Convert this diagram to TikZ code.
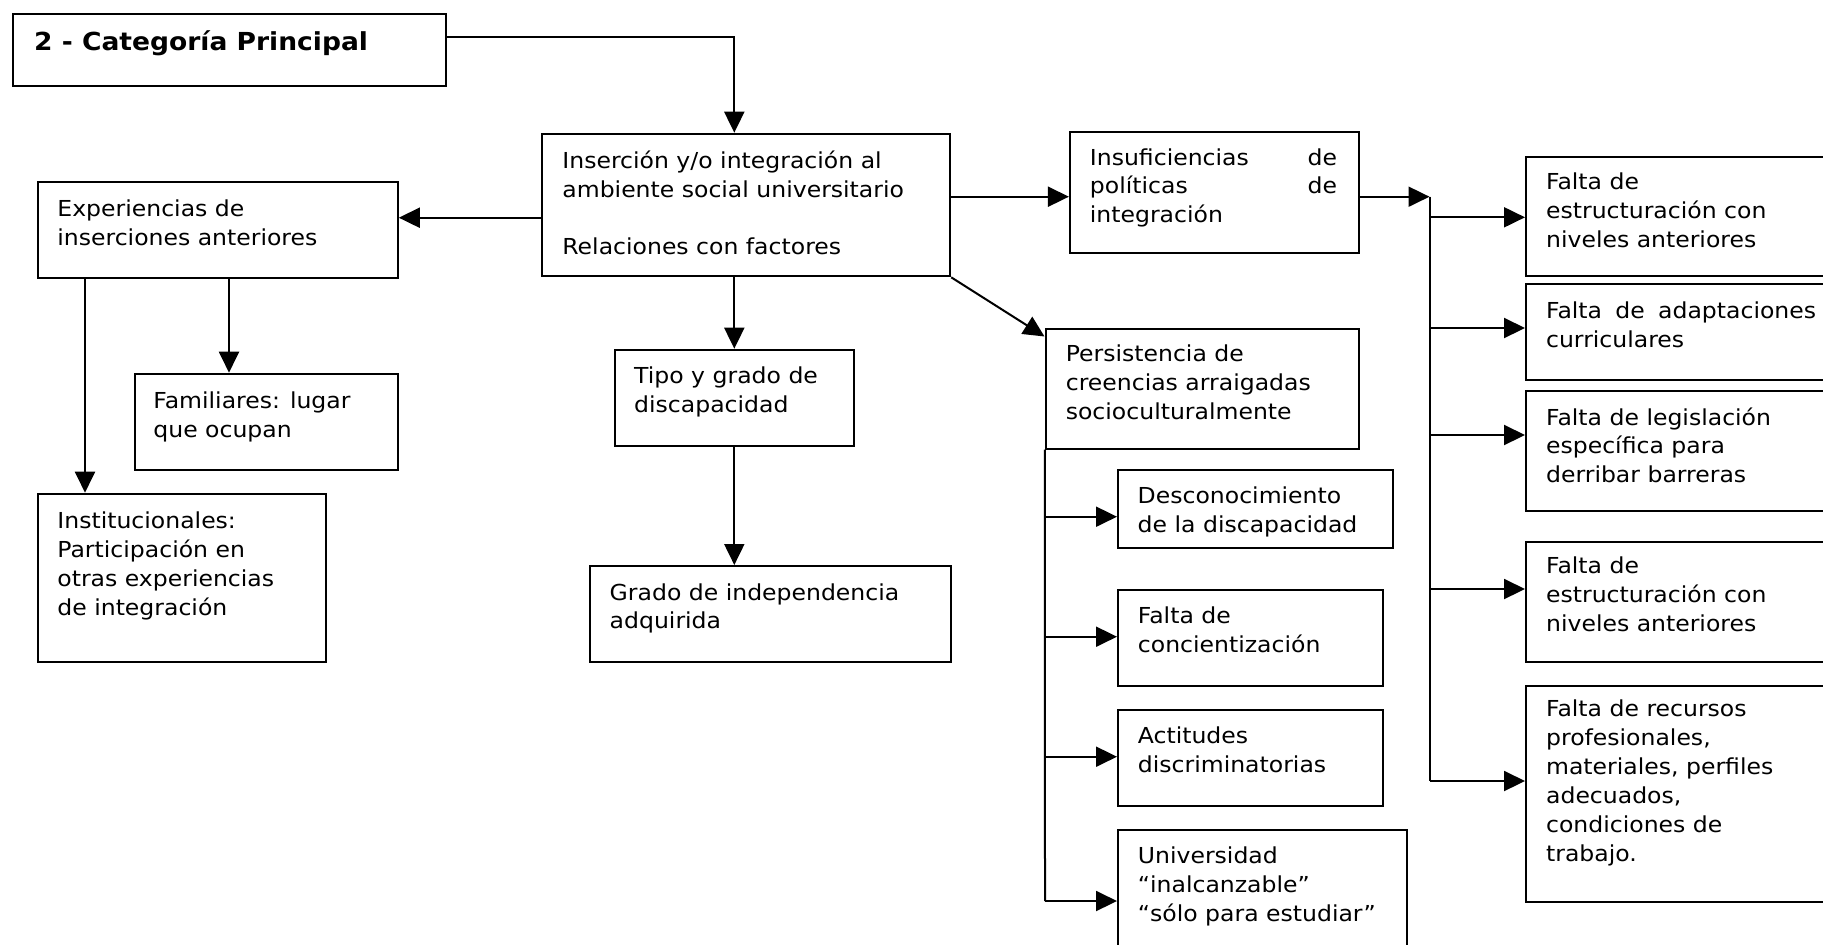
\documentclass[tikz,border=0pt]{standalone}
\usepackage{fontspec}
\setmainfont{DejaVu Sans}[FakeStretch=1.07]
\usetikzlibrary{arrows.meta}
\tikzset{
  bx/.style={draw, line width=1pt, inner sep=0pt, anchor=north west},
  tx/.style={anchor=base west, inner sep=0pt, font=\fontsize{11}{14.45}\selectfont},
  ttl/.style={anchor=base west, inner sep=0pt, font=\fontsize{12.4}{15}\selectfont\bfseries},
  arr/.style={line width=1pt, -{Triangle[length=10.5pt,width=10pt]}},
  ln/.style={line width=1pt}
}
\newcommand\mkbox[5]{\node[bx, minimum width={(#4-#2)*0.5pt}, minimum height={(#5-#3)*0.5pt}] (#1) at (#2,#3) {};}
\newcommand\lines[1]{\begin{tabular}[t]{@{}l@{}}#1\end{tabular}}
\begin{document}
\begin{tikzpicture}[x=0.5pt,y=-0.5pt]
\useasboundingbox (0,0) rectangle (1823,944);
\clip (0,0) rectangle (1823,944);
% boxes
\mkbox{cat}{12.2}{13.3}{445.2}{85}
\mkbox{ins}{541.3}{132.7}{949.2}{275.3}
\mkbox{exp}{36.7}{181}{396.8}{277}
\mkbox{fam}{133.5}{372.7}{396.8}{469.3}
\mkbox{inst}{36.7}{492.7}{325.2}{661}
\mkbox{tipo}{613.6}{348.7}{853}{444.7}
\mkbox{grado}{589}{565}{949.8}{661}
\mkbox{insuf}{1068.9}{131}{1357.9}{251.7}
\mkbox{pers}{1044.8}{328.3}{1357.9}{447.7}
\mkbox{desc}{1117}{469}{1392}{547}
\mkbox{conc}{1117}{589.3}{1381.6}{685}
\mkbox{act}{1117}{709.3}{1381.6}{805}
\mkbox{univ}{1117}{829.3}{1405.7}{980}
\mkbox{ra}{1525}{155.7}{1840}{275}
\mkbox{rb}{1525}{283.3}{1840}{379}
\mkbox{rc}{1525}{390}{1840}{510}
\mkbox{rd}{1525}{541}{1840}{661}
\mkbox{re}{1525}{685}{1840}{901}
% texts
\node[ttl] (cat-t) at (33.7,50) {2 - Categoría Principal};
\node[tx] (ins-t) at (562,168.3) {\lines{Inserción y/o integración al\\ambiente social universitario\\[14.2pt]Relaciones con factores}};
\node[tx] (exp-t) at (57,216.5) {\lines{Experiencias de\\inserciones anteriores}};
\node[tx] (fam-t) at (153,408.3) {\lines{Familiares: lugar\\que ocupan}};
\node[tx] (inst-t) at (57,528.3) {\lines{Institucionales:\\Participación en\\otras experiencias\\de integración}};
\node[tx] (tipo-t) at (633.8,383.3) {\lines{Tipo y grado de\\discapacidad}};
\node[tx] (grado-t) at (609.3,600) {\lines{Grado de independencia\\adquirida}};
\node[tx] (insuf-t) at (1089.5,165) {\lines{\hbox to 123.6pt{Insuficiencias\hfill de}\\\hbox to 123.6pt{políticas\hfill de}\\integración}};
\node[tx] (pers-t) at (1065.4,361.7) {\lines{Persistencia de\\creencias arraigadas\\socioculturalmente}};
\node[tx] (desc-t) at (1137.3,503.3) {\lines{Desconocimiento\\de la discapacidad}};
\node[tx] (conc-t) at (1137.5,623.3) {\lines{Falta de\\concientización}};
\node[tx] (act-t) at (1137.5,743.3) {\lines{Actitudes\\discriminatorias}};
\node[tx] (univ-t) at (1137.5,863.3) {\lines{Universidad\\“inalcanzable”\\“sólo para estudiar”}};
\node[tx] (ra-t) at (1545.7,189.3) {\lines{Falta de\\estructuración con\\niveles anteriores}};
\node[tx] (rb-t) at (1545.7,318.3) {\lines{\hbox to 135pt{Falta\hfill de\hfill adaptaciones}\\curriculares}};
\node[tx] (rc-t) at (1545.7,425) {\lines{Falta de legislación\\específica para\\derribar barreras}};
\node[tx] (rd-t) at (1545.7,573.3) {\lines{Falta de\\estructuración con\\niveles anteriores}};
\node[tx] (re-t) at (1545.7,716.7) {\lines{Falta de recursos\\profesionales,\\materiales, perfiles\\adecuados,\\condiciones de\\trabajo.}};
% connectors
\coordinate (catOut) at (445.2,36.7);
\draw[arr] (catOut) -| (tipo.north |- ins.north);
\draw[arr] (tipo.north |- ins.south) -- (tipo.north);
\draw[arr] (tipo.south) -- (tipo.south |- grado.north);
\coordinate (iE) at (541.3,217.7);
\draw[arr] (iE) -- (iE -| exp.east);
\coordinate (eF) at (229,277);
\draw[arr] (eF) -- (eF |- fam.north);
\coordinate (eI) at (85,277);
\draw[arr] (eI) -- (eI |- inst.north);
\coordinate (iI) at (949.2,196.7);
\draw[arr] (iI) -- (iI -| insuf.west);
\coordinate (jR) at (1429.5,196.7);
\coordinate (jRb) at (1429.5,781);
\draw[arr] (jR -| insuf.east) -- (jR);
\draw[ln] (jR) -- (jRb);
\coordinate (bA) at (1429.5,217.3);
\coordinate (bB) at (1429.5,328);
\coordinate (bC) at (1429.5,435);
\coordinate (bD) at (1429.5,589);
\draw[arr] (bA) -- (bA -| ra.west);
\draw[arr] (bB) -- (bB -| rb.west);
\draw[arr] (bC) -- (bC -| rc.west);
\draw[arr] (bD) -- (bD -| rd.west);
\draw[arr] (jRb) -- (jRb -| re.west);
\coordinate (pD) at (1044.5,336.5);
\draw[arr] (ins.south east) -- (pD);
\coordinate (jPb) at (1045,901);
\draw[ln] (pers.south west) -- (jPb);
\coordinate (pA) at (1045,516.7);
\coordinate (pB) at (1045,636.7);
\coordinate (pC) at (1045,756.7);
\draw[arr] (pA) -- (pA -| desc.west);
\draw[arr] (pB) -- (pB -| conc.west);
\draw[arr] (pC) -- (pC -| act.west);
\draw[arr] (jPb) -- (jPb -| univ.west);
\end{tikzpicture}
\end{document}
